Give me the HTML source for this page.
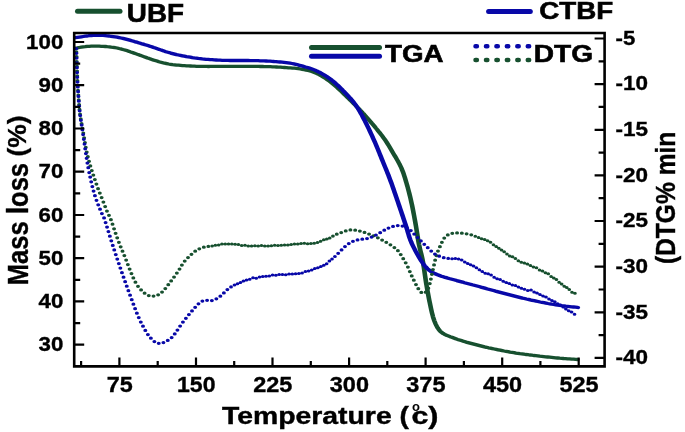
<!DOCTYPE html>
<html lang="en"><head><meta charset="utf-8"><title>TGA / DTG</title>
<style>html,body{margin:0;padding:0;background:#fff}svg{display:block}</style></head>
<body>
<svg width="685" height="432" viewBox="0 0 685 432" style="font-family:&quot;Liberation Sans&quot;,sans-serif" font-weight="bold" fill="#000">
<rect width="685" height="432" fill="#fff"/>
<g transform="scale(1.4,1)" fill="none" stroke-width="3.3" stroke-linecap="round" stroke-linejoin="round">
<path d="M53.86,48.2L55.26,47.9L56.67,47.5L58.08,47.2L59.49,46.9L60.91,46.7L62.33,46.4L63.75,46.3L65.17,46.2L66.60,46.1L68.03,46.1L69.45,46.1L70.88,46.2L72.31,46.3L73.73,46.4L75.16,46.5L76.58,46.7L78.00,46.8L79.42,47.1L80.84,47.3L82.25,47.7L83.65,48.0L85.04,48.5L86.42,48.9L87.80,49.5L89.17,50.0L90.54,50.6L91.89,51.2L93.24,51.9L94.59,52.5L95.94,53.2L97.28,53.9L98.63,54.6L99.97,55.2L101.31,55.9L102.65,56.6L104.00,57.3L105.34,58.0L106.69,58.6L108.04,59.3L109.39,59.9L110.76,60.5L112.12,61.1L113.49,61.7L114.87,62.2L116.25,62.7L117.63,63.2L119.03,63.6L120.43,64.0L121.84,64.3L123.25,64.6L124.67,64.8L126.09,65.1L127.51,65.2L128.93,65.4L130.36,65.6L131.78,65.7L133.21,65.8L134.63,65.9L136.06,66.0L137.49,66.1L138.92,66.2L140.34,66.3L141.77,66.3L143.20,66.4L144.63,66.4L146.06,66.4L147.48,66.4L148.91,66.5L150.34,66.4L151.77,66.4L153.20,66.4L154.63,66.4L156.06,66.4L157.48,66.4L158.91,66.4L160.34,66.4L161.77,66.4L163.20,66.4L164.63,66.4L166.06,66.3L167.48,66.3L168.91,66.3L170.34,66.3L171.77,66.3L173.20,66.3L174.63,66.3L176.05,66.3L177.48,66.3L178.91,66.3L180.34,66.4L181.77,66.4L183.20,66.4L184.63,66.4L186.05,66.5L187.48,66.5L188.91,66.6L190.34,66.6L191.77,66.7L193.19,66.7L194.62,66.8L196.05,66.9L197.48,67.0L198.90,67.1L200.33,67.2L201.75,67.4L203.18,67.5L204.60,67.6L206.03,67.8L207.45,67.9L208.88,68.1L210.30,68.2L211.72,68.4L213.14,68.7L214.55,69.0L215.95,69.3L217.36,69.7L218.75,70.1L220.14,70.5L221.52,71.0L222.88,71.6L224.22,72.3L225.54,73.0L226.84,73.9L228.11,74.7L229.36,75.7L230.59,76.7L231.81,77.8L233.00,78.8L234.18,80.0L235.34,81.1L236.48,82.3L237.60,83.6L238.69,84.9L239.77,86.2L240.83,87.5L241.88,88.9L242.92,90.2L243.96,91.6L244.99,93.0L246.02,94.4L247.05,95.8L248.07,97.2L249.08,98.6L250.09,100.0L251.10,101.4L252.11,102.8L253.11,104.2L254.12,105.7L255.12,107.1L256.12,108.5L257.11,110.0L258.10,111.4L259.08,112.9L260.04,114.3L261.00,115.8L261.95,117.3L262.90,118.8L263.83,120.3L264.76,121.8L265.69,123.4L266.61,124.9L267.53,126.4L268.44,128.0L269.35,129.5L270.25,131.1L271.15,132.6L272.04,134.2L272.91,135.8L273.76,137.4L274.59,139.0L275.39,140.6L276.18,142.3L276.95,144.0L277.70,145.7L278.43,147.4L279.16,149.1L279.89,150.9L280.61,152.6L281.34,154.3L282.07,156.0L282.79,157.7L283.51,159.5L284.22,161.2L284.91,163.0L285.57,164.7L286.20,166.5L286.79,168.3L287.34,170.2L287.85,172.0L288.33,173.9L288.77,175.8L289.20,177.7L289.62,179.6L290.03,181.6L290.43,183.5L290.82,185.4L291.20,187.3L291.58,189.3L291.95,191.2L292.31,193.1L292.66,195.1L293.00,197.0L293.33,199.0L293.64,200.9L293.95,202.9L294.25,204.8L294.54,206.8L294.82,208.7L295.10,210.7L295.37,212.7L295.63,214.6L295.90,216.6L296.15,218.6L296.41,220.5L296.66,222.5L296.91,224.5L297.15,226.4L297.38,228.4L297.61,230.4L297.83,232.4L298.05,234.3L298.27,236.3L298.50,238.3L298.73,240.3L298.98,242.2L299.24,244.2L299.53,246.1L299.84,248.1L300.17,250.0L300.52,252.0L300.87,253.9L301.21,255.9L301.53,257.8L301.82,259.8L302.09,261.7L302.34,263.7L302.57,265.7L302.78,267.6L302.99,269.6L303.20,271.6L303.40,273.6L303.61,275.6L303.81,277.5L304.02,279.5L304.24,281.5L304.46,283.5L304.69,285.4L304.93,287.4L305.17,289.4L305.42,291.4L305.68,293.3L305.94,295.3L306.21,297.3L306.48,299.2L306.76,301.2L307.04,303.1L307.33,305.1L307.63,307.1L307.93,309.0L308.25,311.0L308.57,312.9L308.92,314.8L309.29,316.8L309.71,318.7L310.17,320.6L310.68,322.4L311.25,324.3L311.88,326.0L312.57,327.8L313.35,329.4L314.23,330.9L315.23,332.2L316.34,333.4L317.54,334.3L318.82,335.2L320.13,335.9L321.46,336.7L322.80,337.3L324.14,338.0L325.49,338.7L326.83,339.4L328.19,340.0L329.54,340.6L330.90,341.2L332.27,341.8L333.64,342.4L335.02,342.9L336.40,343.4L337.78,343.9L339.16,344.4L340.55,344.9L341.93,345.4L343.32,345.9L344.70,346.4L346.09,346.9L347.48,347.3L348.88,347.8L350.27,348.2L351.67,348.6L353.06,349.0L354.46,349.4L355.86,349.8L357.27,350.2L358.67,350.6L360.07,351.0L361.48,351.3L362.88,351.7L364.29,352.1L365.69,352.4L367.10,352.7L368.51,353.1L369.92,353.4L371.34,353.7L372.75,353.9L374.17,354.2L375.58,354.5L377.00,354.7L378.42,355.0L379.83,355.2L381.25,355.5L382.67,355.7L384.09,355.9L385.51,356.2L386.93,356.4L388.35,356.6L389.77,356.8L391.19,357.0L392.61,357.2L394.03,357.4L395.45,357.6L396.88,357.8L398.30,358.0L399.72,358.2L401.15,358.3L402.57,358.5L403.99,358.6L405.42,358.8L406.84,358.9L408.26,359.1L409.68,359.2L411.09,359.4L412.50,359.5" stroke="#17502f"/>
<path d="M53.86,37.7L55.27,37.4L56.68,37.1L58.09,36.8L59.50,36.5L60.92,36.2L62.33,36.0L63.75,35.7L65.18,35.6L66.60,35.4L68.03,35.3L69.45,35.3L70.88,35.3L72.31,35.3L73.73,35.4L75.15,35.6L76.57,35.8L77.99,36.0L79.41,36.3L80.82,36.6L82.23,36.9L83.64,37.2L85.04,37.6L86.44,38.0L87.83,38.4L89.22,38.9L90.60,39.4L91.98,39.9L93.36,40.4L94.73,41.0L96.10,41.6L97.47,42.1L98.84,42.7L100.21,43.3L101.58,43.9L102.94,44.4L104.31,45.0L105.67,45.6L107.03,46.2L108.39,46.8L109.75,47.5L111.10,48.1L112.45,48.8L113.80,49.4L115.15,50.1L116.50,50.7L117.85,51.4L119.22,52.0L120.58,52.5L121.96,53.1L123.33,53.6L124.72,54.1L126.11,54.6L127.50,55.0L128.90,55.4L130.30,55.8L131.70,56.2L133.11,56.6L134.51,56.9L135.92,57.2L137.33,57.6L138.74,57.9L140.16,58.1L141.57,58.4L142.99,58.6L144.41,58.9L145.83,59.1L147.25,59.3L148.68,59.4L150.10,59.6L151.52,59.7L152.95,59.9L154.38,60.0L155.80,60.1L157.23,60.2L158.66,60.3L160.08,60.3L161.51,60.4L162.94,60.4L164.37,60.5L165.80,60.5L167.23,60.5L168.65,60.5L170.08,60.5L171.51,60.5L172.94,60.5L174.37,60.5L175.80,60.5L177.22,60.5L178.65,60.6L180.08,60.6L181.51,60.6L182.94,60.7L184.37,60.7L185.79,60.8L187.22,60.8L188.65,60.9L190.08,61.0L191.50,61.1L192.93,61.2L194.36,61.3L195.78,61.5L197.20,61.6L198.63,61.8L200.05,62.0L201.47,62.2L202.89,62.4L204.31,62.6L205.72,62.9L207.14,63.2L208.54,63.5L209.94,63.9L211.33,64.3L212.71,64.8L214.09,65.4L215.46,65.9L216.84,66.4L218.21,67.0L219.59,67.5L220.95,68.1L222.31,68.7L223.64,69.4L224.97,70.1L226.27,71.0L227.55,71.8L228.82,72.7L230.07,73.7L231.30,74.7L232.52,75.8L233.72,76.8L234.89,78.0L236.05,79.1L237.18,80.4L238.28,81.6L239.36,82.9L240.42,84.3L241.46,85.6L242.49,87.0L243.51,88.4L244.52,89.8L245.52,91.3L246.52,92.7L247.51,94.1L248.49,95.6L249.46,97.1L250.41,98.5L251.34,100.1L252.24,101.6L253.11,103.2L253.95,104.8L254.76,106.4L255.55,108.1L256.30,109.8L257.03,111.5L257.73,113.3L258.42,115.0L259.10,116.8L259.76,118.6L260.42,120.3L261.07,122.1L261.71,123.9L262.34,125.7L262.96,127.5L263.58,129.3L264.19,131.1L264.79,132.9L265.39,134.7L265.98,136.6L266.57,138.4L267.15,140.2L267.73,142.0L268.30,143.9L268.86,145.7L269.41,147.6L269.95,149.4L270.49,151.3L271.03,153.1L271.56,155.0L272.09,156.8L272.63,158.7L273.16,160.5L273.70,162.4L274.25,164.2L274.79,166.1L275.33,167.9L275.87,169.8L276.41,171.6L276.94,173.5L277.47,175.3L277.98,177.2L278.49,179.1L278.99,181.0L279.48,182.8L279.97,184.7L280.45,186.6L280.92,188.5L281.39,190.4L281.85,192.3L282.32,194.2L282.78,196.1L283.24,197.9L283.70,199.8L284.16,201.7L284.62,203.6L285.08,205.5L285.54,207.4L286.00,209.3L286.46,211.2L286.92,213.1L287.38,215.0L287.84,216.9L288.29,218.8L288.74,220.7L289.19,222.6L289.64,224.5L290.07,226.4L290.50,228.3L290.91,230.2L291.31,232.1L291.71,234.0L292.12,236.0L292.56,237.8L293.04,239.7L293.57,241.6L294.13,243.4L294.73,245.2L295.36,247.0L296.01,248.8L296.67,250.6L297.35,252.3L298.04,254.1L298.75,255.8L299.47,257.6L300.20,259.3L300.96,261.0L301.74,262.6L302.56,264.3L303.43,265.8L304.35,267.3L305.35,268.7L306.41,270.0L307.55,271.2L308.75,272.3L309.99,273.2L311.28,274.0L312.59,274.8L313.93,275.5L315.27,276.2L316.63,276.8L318.00,277.4L319.37,277.9L320.74,278.5L322.12,279.0L323.50,279.5L324.88,280.0L326.26,280.6L327.63,281.1L329.01,281.6L330.39,282.1L331.77,282.7L333.15,283.2L334.53,283.7L335.91,284.2L337.29,284.8L338.67,285.3L340.05,285.8L341.42,286.3L342.80,286.8L344.18,287.4L345.56,287.9L346.94,288.4L348.32,289.0L349.69,289.5L351.07,290.0L352.45,290.5L353.83,291.1L355.21,291.6L356.59,292.1L357.97,292.6L359.35,293.1L360.73,293.6L362.11,294.1L363.49,294.6L364.88,295.1L366.26,295.6L367.65,296.1L369.03,296.6L370.42,297.1L371.81,297.6L373.19,298.1L374.58,298.5L375.97,299.0L377.37,299.4L378.76,299.9L380.15,300.3L381.55,300.7L382.95,301.1L384.35,301.5L385.74,302.0L387.14,302.3L388.55,302.7L389.95,303.1L391.35,303.5L392.76,303.8L394.17,304.2L395.57,304.5L396.99,304.8L398.40,305.1L399.81,305.4L401.23,305.7L402.65,305.9L404.06,306.2L405.48,306.4L406.89,306.6L408.30,306.8L409.68,307.0L411.04,307.2L412.38,307.4L412.71,307.5" stroke="#0808a8"/>
</g>
<g transform="scale(1.22,1)">
<path d="M173.83,245.9h.01M176.52,245.2h.01M179.21,245.0h.01M181.91,244.1h.01M184.61,244.0h.01M187.31,244.1h.01M190.02,244.1h.01M192.72,244.3h.01M195.41,244.6h.01M198.11,245.4h.01M200.81,245.2h.01M203.51,246.1h.01M206.22,245.9h.01M208.92,245.7h.01M211.63,245.9h.01M214.33,245.4h.01M217.03,246.1h.01M219.74,245.9h.01M222.44,245.7h.01M225.15,245.3h.01M227.85,245.6h.01M230.55,245.3h.01M233.25,245.0h.01M235.95,245.1h.01M238.65,244.6h.01M241.35,244.1h.01M244.05,244.1h.01M246.75,243.6h.01M249.45,243.3h.01M252.15,243.7h.01M254.84,243.4h.01M257.52,243.2h.01M260.19,242.5h.01M262.81,241.3h.01M265.36,239.8h.01M267.84,238.9h.01M270.28,237.9h.01M389.56,236.3h.01M392.28,237.4h.01M394.80,238.8h.01M397.28,239.5h.01M399.71,240.8h.01M402.10,242.3h.01M404.44,244.7h.01M406.70,246.6h.01M408.90,248.2h.01M411.07,250.0h.01M413.28,251.7h.01M415.54,254.1h.01M417.82,255.9h.01M420.13,256.7h.01M422.47,258.5h.01M424.86,260.8h.01M427.30,262.2h.01M429.79,262.9h.01M432.29,264.1h.01M434.78,265.6h.01M437.26,267.0h.01M439.74,267.8h.01M442.21,270.0h.01M444.67,271.0h.01M447.08,272.8h.01M449.43,273.8h.01M451.70,276.4h.01M453.91,278.1h.01M456.10,279.6h.01M458.26,282.3h.01M460.38,284.0h.01M462.49,286.2h.01M464.57,287.5h.01M466.62,289.6h.01M468.82,292.3h.01M471.28,293.2h.01" fill="none" stroke="#17502f" stroke-width="3.0" stroke-linecap="round"/><path d="M170.74,246.4h.01M272.89,236.1h.01" fill="none" stroke="#17502f" stroke-width="3.125" stroke-linecap="round"/><path d="M62.61,51.9h.01M62.78,56.7h.01M62.93,61.5h.01M63.07,66.3h.01M63.19,71.1h.01M63.31,75.9h.01M63.48,80.7h.01M63.69,85.5h.01M63.93,90.3h.01M64.21,95.1h.01M64.52,99.9h.01M64.82,104.6h.01M65.16,109.4h.01M65.60,114.2h.01M66.18,118.9h.01M66.86,123.7h.01M67.58,128.4h.01M68.29,133.1h.01M68.96,137.8h.01M69.62,142.6h.01M70.31,147.3h.01M71.09,152.0h.01M71.99,156.7h.01M72.98,161.3h.01M74.06,165.9h.01M75.25,170.5h.01M76.49,175.1h.01M77.75,179.6h.01M79.03,184.1h.01M80.37,188.7h.01M81.81,193.1h.01M83.29,197.6h.01M84.76,202.0h.01M86.20,206.5h.01M87.67,211.0h.01M89.32,215.3h.01M90.92,219.7h.01M92.22,224.2h.01M93.49,228.8h.01M94.76,233.3h.01M96.07,237.8h.01M97.45,242.3h.01M98.91,246.8h.01M100.41,251.2h.01M101.93,255.6h.01M103.40,260.1h.01M104.80,264.6h.01M106.24,269.0h.01M107.75,273.5h.01M109.29,277.9h.01M111.01,282.2h.01M113.11,286.3h.01M115.64,289.9h.01M118.52,293.2h.01M121.94,295.5h.01M125.84,296.0h.01M129.62,294.8h.01M132.81,292.0h.01M135.49,288.5h.01M137.93,284.7h.01M140.29,280.9h.01M142.64,277.0h.01M144.95,273.1h.01M147.14,269.1h.01M149.09,265.0h.01M151.41,261.1h.01M154.10,257.6h.01M156.94,254.3h.01M159.98,251.2h.01M163.36,248.8h.01M167.08,247.2h.01M276.03,234.2h.01M279.69,232.5h.01M283.39,230.9h.01M287.21,229.9h.01M291.13,230.2h.01M294.99,231.1h.01M298.78,232.4h.01M302.49,234.0h.01M306.14,235.8h.01M309.71,237.8h.01M313.21,240.0h.01M316.63,242.3h.01M320.01,244.8h.01M323.26,247.5h.01M326.15,250.7h.01M328.46,254.6h.01M330.52,258.7h.01M332.53,262.8h.01M334.35,267.1h.01M335.91,271.5h.01M337.49,275.9h.01M339.20,280.2h.01M340.97,284.5h.01M342.87,288.7h.01M345.33,292.4h.01M348.92,292.2h.01M351.08,288.2h.01M352.30,283.6h.01M353.19,279.0h.01M354.01,274.3h.01M354.88,269.6h.01M355.76,264.9h.01M356.66,260.2h.01M357.68,255.6h.01M358.99,251.1h.01M360.58,246.7h.01M362.20,242.3h.01M364.13,238.1h.01M367.03,234.9h.01M370.71,233.3h.01M374.63,232.9h.01M378.56,233.2h.01M382.45,233.8h.01M386.27,234.8h.01" fill="none" stroke="#17502f" stroke-width="3.25" stroke-linecap="round"/>
<path d="M192.15,285.0h.01M194.63,283.8h.01M197.07,282.5h.01M199.53,280.9h.01M202.08,279.9h.01M204.70,279.3h.01M207.37,277.7h.01M210.04,278.2h.01M212.71,277.0h.01M215.36,276.5h.01M218.03,276.3h.01M220.72,275.9h.01M223.41,275.0h.01M226.11,275.3h.01M228.81,274.5h.01M231.51,274.6h.01M234.20,274.8h.01M236.90,274.1h.01M239.59,273.9h.01M242.28,273.7h.01M244.97,273.4h.01M247.64,272.9h.01M250.29,271.4h.01M252.91,271.0h.01M255.49,270.1h.01M258.02,268.5h.01M260.52,267.7h.01M262.99,266.5h.01M265.40,265.2h.01M267.75,263.7h.01M269.97,260.9h.01M272.15,258.9h.01M370.51,258.7h.01M373.24,258.5h.01M375.90,259.1h.01M378.46,260.0h.01M380.94,261.9h.01M383.37,263.5h.01M385.78,264.7h.01M388.15,266.0h.01M390.52,267.8h.01M392.90,269.7h.01M395.29,271.6h.01M397.69,273.2h.01M400.12,273.8h.01M402.56,275.0h.01M405.01,277.3h.01M407.47,278.7h.01M409.95,279.5h.01M412.44,281.2h.01M414.94,282.6h.01M417.44,283.5h.01M419.95,285.0h.01M422.46,285.4h.01M424.93,287.0h.01M427.39,288.3h.01M429.94,289.3h.01M432.62,290.5h.01M435.29,290.0h.01M437.78,292.0h.01M440.17,292.9h.01M442.61,294.6h.01M445.10,296.0h.01M447.56,297.1h.01M449.99,298.9h.01M452.40,300.4h.01M454.78,301.7h.01M457.12,303.8h.01M459.40,305.0h.01M461.63,306.9h.01M463.86,308.9h.01M466.15,310.7h.01M468.54,312.1h.01M470.95,314.3h.01" fill="none" stroke="#0808a8" stroke-width="3.0" stroke-linecap="round"/><path d="M189.36,286.9h.01M274.51,256.5h.01M367.38,258.4h.01" fill="none" stroke="#0808a8" stroke-width="3.125" stroke-linecap="round"/><path d="M62.54,48.5h.01M62.68,53.3h.01M62.81,58.1h.01M62.94,62.9h.01M63.06,67.7h.01M63.19,72.5h.01M63.34,77.3h.01M63.54,82.1h.01M63.77,86.9h.01M64.03,91.7h.01M64.31,96.4h.01M64.61,101.2h.01M64.92,106.0h.01M65.29,110.8h.01M65.75,115.6h.01M66.30,120.3h.01M66.92,125.1h.01M67.54,129.8h.01M68.14,134.5h.01M68.71,139.3h.01M69.26,144.0h.01M69.82,148.8h.01M70.39,153.5h.01M71.00,158.3h.01M71.64,163.0h.01M72.35,167.7h.01M73.11,172.5h.01M73.91,177.1h.01M74.77,181.8h.01M75.69,186.5h.01M76.69,191.1h.01M77.81,195.7h.01M79.09,200.3h.01M80.50,204.8h.01M81.98,209.2h.01M83.52,213.6h.01M85.28,217.9h.01M86.55,222.5h.01M87.73,227.0h.01M88.88,231.6h.01M90.05,236.2h.01M91.22,240.8h.01M92.43,245.4h.01M93.65,249.9h.01M94.89,254.5h.01M96.13,259.0h.01M97.39,263.6h.01M98.66,268.1h.01M99.95,272.7h.01M101.25,277.2h.01M102.57,281.7h.01M103.90,286.2h.01M105.24,290.7h.01M106.60,295.2h.01M107.97,299.7h.01M109.34,304.2h.01M110.74,308.7h.01M112.19,313.2h.01M113.74,317.6h.01M115.41,322.0h.01M117.20,326.2h.01M119.11,330.4h.01M121.22,334.5h.01M123.66,338.2h.01M126.54,341.5h.01M130.11,343.3h.01M133.95,342.5h.01M137.49,340.4h.01M140.69,337.6h.01M143.22,333.9h.01M145.42,330.0h.01M147.62,326.0h.01M149.94,322.1h.01M152.36,318.3h.01M154.83,314.6h.01M157.37,310.9h.01M159.95,307.3h.01M162.67,303.8h.01M165.89,301.1h.01M169.74,300.3h.01M173.66,300.5h.01M177.33,298.8h.01M180.60,296.2h.01M183.49,292.9h.01M186.36,289.6h.01M277.19,253.3h.01M279.96,249.9h.01M282.76,246.6h.01M285.87,243.6h.01M289.30,241.3h.01M293.05,239.9h.01M296.95,239.2h.01M300.83,238.5h.01M304.56,237.0h.01M308.14,235.0h.01M311.61,232.7h.01M314.97,230.2h.01M318.44,228.0h.01M322.14,226.4h.01M326.01,225.5h.01M329.90,226.1h.01M333.56,227.8h.01M336.75,230.6h.01M339.50,234.0h.01M342.22,237.5h.01M344.99,240.9h.01M347.77,244.3h.01M350.60,247.7h.01M353.45,251.0h.01M356.51,254.0h.01M359.99,256.2h.01M363.71,257.7h.01" fill="none" stroke="#0808a8" stroke-width="3.25" stroke-linecap="round"/>
</g>
<path d="M74.2,344.7h10M74.2,301.4h10M74.2,258.2h10M74.2,215.0h10M74.2,171.7h10M74.2,128.5h10M74.2,85.2h10M74.2,42.0h10M74.2,323.1h6M74.2,279.8h6M74.2,236.6h6M74.2,193.3h6M74.2,150.1h6M74.2,106.9h6M74.2,63.6h6M604.6,357.9h-10M604.6,312.3h-10M604.6,266.6h-10M604.6,221.0h-10M604.6,175.4h-10M604.6,129.8h-10M604.6,84.1h-10M604.6,38.5h-10M604.6,335.1h-6M604.6,289.5h-6M604.6,243.8h-6M604.6,198.2h-6M604.6,152.6h-6M604.6,106.9h-6M604.6,61.3h-6M119.4,366.4v-9M196.0,366.4v-9M272.5,366.4v-9M349.1,366.4v-9M425.6,366.4v-9M502.2,366.4v-9M578.7,366.4v-9M81.1,366.4v-5.5M157.7,366.4v-5.5M234.2,366.4v-5.5M310.8,366.4v-5.5M387.3,366.4v-5.5M463.9,366.4v-5.5M540.4,366.4v-5.5" stroke="#000" stroke-width="2.2" fill="none"/>
<path d="M74.2,33.0H604.6V366.4H74.2Z" stroke="#000" stroke-width="2.6" fill="none" stroke-linejoin="miter"/>
<text x="38.5" y="351.2" font-size="20.6" text-anchor="start" textLength="24.8" lengthAdjust="spacingAndGlyphs" stroke="#000" stroke-width="0.35">30</text>
<text x="38.5" y="307.9" font-size="20.6" text-anchor="start" textLength="24.8" lengthAdjust="spacingAndGlyphs" stroke="#000" stroke-width="0.35">40</text>
<text x="38.5" y="264.7" font-size="20.6" text-anchor="start" textLength="24.8" lengthAdjust="spacingAndGlyphs" stroke="#000" stroke-width="0.35">50</text>
<text x="38.5" y="221.5" font-size="20.6" text-anchor="start" textLength="24.8" lengthAdjust="spacingAndGlyphs" stroke="#000" stroke-width="0.35">60</text>
<text x="38.5" y="178.2" font-size="20.6" text-anchor="start" textLength="24.8" lengthAdjust="spacingAndGlyphs" stroke="#000" stroke-width="0.35">70</text>
<text x="38.5" y="135.0" font-size="20.6" text-anchor="start" textLength="24.8" lengthAdjust="spacingAndGlyphs" stroke="#000" stroke-width="0.35">80</text>
<text x="38.5" y="91.7" font-size="20.6" text-anchor="start" textLength="24.8" lengthAdjust="spacingAndGlyphs" stroke="#000" stroke-width="0.35">90</text>
<text x="26.1" y="48.5" font-size="20.6" text-anchor="start" textLength="37.2" lengthAdjust="spacingAndGlyphs" stroke="#000" stroke-width="0.35">100</text>
<text x="615.6" y="364.2" font-size="20.6" text-anchor="start" textLength="32.5" lengthAdjust="spacingAndGlyphs" stroke="#000" stroke-width="0.35">-40</text>
<text x="615.6" y="318.6" font-size="20.6" text-anchor="start" textLength="32.5" lengthAdjust="spacingAndGlyphs" stroke="#000" stroke-width="0.35">-35</text>
<text x="615.6" y="272.9" font-size="20.6" text-anchor="start" textLength="32.5" lengthAdjust="spacingAndGlyphs" stroke="#000" stroke-width="0.35">-30</text>
<text x="615.6" y="227.3" font-size="20.6" text-anchor="start" textLength="32.5" lengthAdjust="spacingAndGlyphs" stroke="#000" stroke-width="0.35">-25</text>
<text x="615.6" y="181.7" font-size="20.6" text-anchor="start" textLength="32.5" lengthAdjust="spacingAndGlyphs" stroke="#000" stroke-width="0.35">-20</text>
<text x="615.6" y="136.1" font-size="20.6" text-anchor="start" textLength="32.5" lengthAdjust="spacingAndGlyphs" stroke="#000" stroke-width="0.35">-15</text>
<text x="615.6" y="90.4" font-size="20.6" text-anchor="start" textLength="32.5" lengthAdjust="spacingAndGlyphs" stroke="#000" stroke-width="0.35">-10</text>
<text x="615.6" y="44.8" font-size="20.6" text-anchor="start" textLength="19.7" lengthAdjust="spacingAndGlyphs" stroke="#000" stroke-width="0.35">-5</text>
<text x="106.7" y="391.8" font-size="21.4" text-anchor="start" textLength="26.0" lengthAdjust="spacingAndGlyphs" stroke="#000" stroke-width="0.35">75</text>
<text x="177.0" y="391.8" font-size="21.4" text-anchor="start" textLength="38.5" lengthAdjust="spacingAndGlyphs" stroke="#000" stroke-width="0.35">150</text>
<text x="253.2" y="391.8" font-size="21.4" text-anchor="start" textLength="39.2" lengthAdjust="spacingAndGlyphs" stroke="#000" stroke-width="0.35">225</text>
<text x="329.8" y="391.8" font-size="21.4" text-anchor="start" textLength="39.2" lengthAdjust="spacingAndGlyphs" stroke="#000" stroke-width="0.35">300</text>
<text x="406.3" y="391.8" font-size="21.4" text-anchor="start" textLength="39.2" lengthAdjust="spacingAndGlyphs" stroke="#000" stroke-width="0.35">375</text>
<text x="482.9" y="391.8" font-size="21.4" text-anchor="start" textLength="39.2" lengthAdjust="spacingAndGlyphs" stroke="#000" stroke-width="0.35">450</text>
<text x="559.4" y="391.8" font-size="21.4" text-anchor="start" textLength="39.2" lengthAdjust="spacingAndGlyphs" stroke="#000" stroke-width="0.35">525</text>
<text x="222.0" y="424.2" font-size="23.6" textLength="187" lengthAdjust="spacingAndGlyphs" stroke="#000" stroke-width="0.4">Temperature (</text>
<text x="412" y="411.4" font-size="13">o</text>
<text x="411.4" y="424.2" font-size="23.6" textLength="27" lengthAdjust="spacingAndGlyphs" stroke="#000" stroke-width="0.4">c)</text>
<text transform="translate(28.2,285.2) rotate(-90)" font-size="29" textLength="122.3" lengthAdjust="spacingAndGlyphs" stroke="#000" stroke-width="0.4">Mass loss</text>
<text transform="translate(26.2,156.6) rotate(-90)" font-size="25.7" textLength="41.2" lengthAdjust="spacingAndGlyphs" stroke="#000" stroke-width="0.3">(%)</text>
<text transform="translate(675.2,264.1) rotate(-90)" font-size="28" textLength="132.5" lengthAdjust="spacingAndGlyphs" stroke="#000" stroke-width="0.4">(DTG% min</text>
<path d="M77.5,11.3H120" stroke="#17502f" stroke-width="5" stroke-linecap="round"/>
<text x="126.8" y="21.6" font-size="25.6" text-anchor="start" textLength="57.2" lengthAdjust="spacingAndGlyphs" stroke="#000" stroke-width="0.6">UBF</text>
<path d="M488.6,11.5H530.3" stroke="#0808a8" stroke-width="5" stroke-linecap="round"/>
<text x="539.3" y="19.3" font-size="24.3" text-anchor="start" textLength="74" lengthAdjust="spacingAndGlyphs" stroke="#000" stroke-width="0.6">CTBF</text>
<path d="M311.5,47.6H379.5" stroke="#17502f" stroke-width="5" stroke-linecap="round"/>
<path d="M311.5,56.3H379.5" stroke="#0808a8" stroke-width="5" stroke-linecap="round"/>
<text x="385" y="62.2" font-size="24.6" text-anchor="start" textLength="58.5" lengthAdjust="spacingAndGlyphs" stroke="#000" stroke-width="0.6">TGA</text>
<path d="M475.5,46.3H531" stroke="#0808a8" stroke-width="4.5" stroke-linecap="round" stroke-dasharray="1.4 9.05"/>
<path d="M475.5,59.9H531" stroke="#17502f" stroke-width="4.5" stroke-linecap="round" stroke-dasharray="1.4 9.05"/>
<text x="533.8" y="62.4" font-size="24.8" text-anchor="start" textLength="59.3" lengthAdjust="spacingAndGlyphs" stroke="#000" stroke-width="0.6">DTG</text>
</svg>
</body></html>
